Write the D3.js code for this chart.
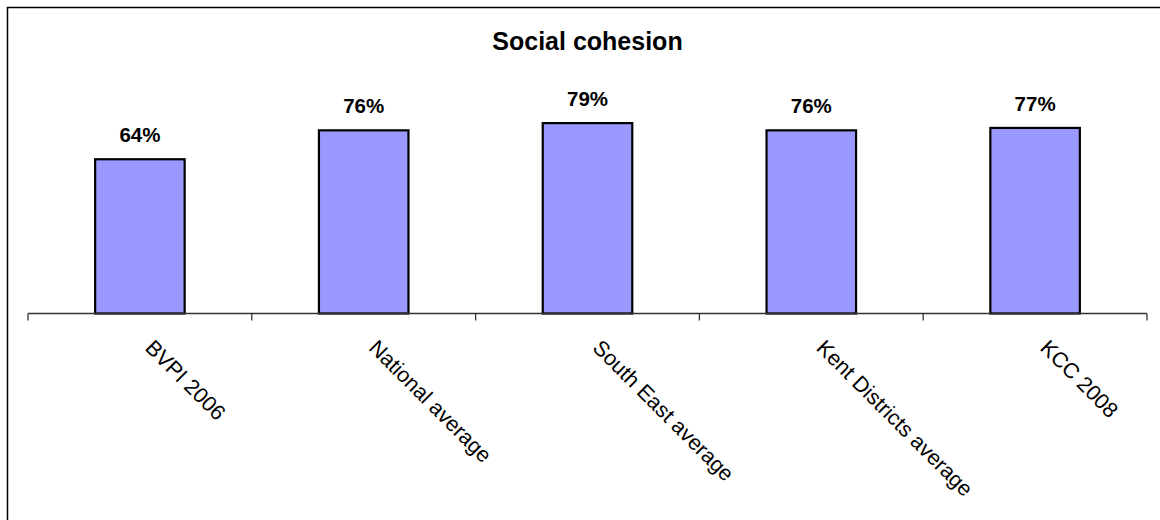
<!DOCTYPE html>
<html>
<head>
<meta charset="utf-8">
<script src="https://cdn.jsdelivr.net/npm/d3@7"></script>
<style>
  html, body { margin: 0; padding: 0; background: #fff; }
  svg { display: block; font-family: "Liberation Sans", Arial, sans-serif; }
</style>
</head>
<body>
<svg id="chart" width="1160" height="520"></svg>
<script>
// Survey results for the social cohesion indicator
const chartTitle = "Social cohesion";
const categories = ["BVPI 2006", "National average", "South East average", "Kent Districts average", "KCC 2008"];
const values = [64, 76, 79, 76, 77];
const valueLabels = ["64%", "76%", "79%", "76%", "77%"];

const svg = d3.select("#chart");
const W = 1160, H = 520;

// Outer frame (extends past the right and bottom edges of the canvas)
svg.append("rect")
  .attr("x", 7.5).attr("y", 7.5)
  .attr("width", W + 20).attr("height", H + 20)
  .attr("fill", "#fff")
  .attr("stroke", "#000")
  .attr("stroke-width", 1.5);

const plot = { left: 28, right: 1147, base: 313.5, top: 72.5 };

const x = d3.scaleBand()
  .domain(categories)
  .range([plot.left, plot.right])
  .paddingInner(0.6)
  .paddingOuter(0.3);

const y = d3.scaleLinear()
  .domain([0, 100])
  .range([plot.base, plot.top]);

// Title
svg.append("text")
  .attr("x", (plot.left + plot.right) / 2)
  .attr("y", 50)
  .attr("text-anchor", "middle")
  .attr("font-size", 25)
  .attr("font-weight", "bold")
  .attr("fill", "#000")
  .text(chartTitle);

// Bars
svg.append("g")
  .selectAll("rect")
  .data(values)
  .join("rect")
  .attr("x", (d, i) => x(categories[i]))
  .attr("y", d => y(d))
  .attr("width", x.bandwidth())
  .attr("height", d => y(0) - y(d))
  .attr("fill", "#9999FF")
  .attr("stroke", "#000")
  .attr("stroke-width", 2.2);

// Value labels
svg.append("g")
  .selectAll("text")
  .data(values)
  .join("text")
  .attr("x", (d, i) => x(categories[i]) + x.bandwidth() / 2)
  .attr("y", d => y(d) - 17)
  .attr("text-anchor", "middle")
  .attr("font-size", 20.5)
  .attr("font-weight", "bold")
  .attr("fill", "#000")
  .text((d, i) => valueLabels[i]);

// Category axis: baseline with ticks on category boundaries
const step = x.step();
const boundaries = d3.range(categories.length + 1).map(i => plot.left + i * step);
const axis = svg.append("g");
axis.append("line")
  .attr("x1", plot.left).attr("x2", plot.right)
  .attr("y1", plot.base).attr("y2", plot.base)
  .attr("stroke", "#333")
  .attr("stroke-width", 1.3);
axis.selectAll("line.tick")
  .data(boundaries)
  .join("line")
  .attr("class", "tick")
  .attr("x1", d => d).attr("x2", d => d)
  .attr("y1", plot.base).attr("y2", plot.base + 7)
  .attr("stroke", "#333")
  .attr("stroke-width", 1.3);

// Rotated category labels
axis.selectAll("text")
  .data(categories)
  .join("text")
  .attr("transform", d => `translate(${x(d) + x.bandwidth() / 2 + 4},349) rotate(45)`)
  .attr("text-anchor", "start")
  .attr("font-size", 21.5)
  .attr("fill", "#000")
  .text(d => d);
</script>
</body>
</html>
